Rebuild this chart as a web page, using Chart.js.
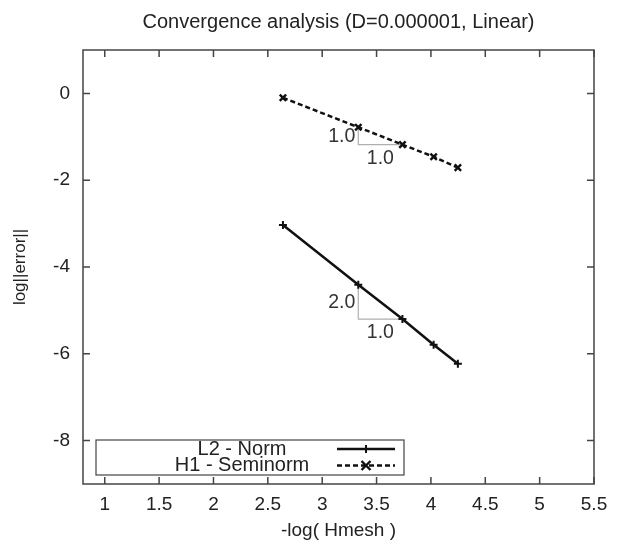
<!DOCTYPE html>
<html>
<head>
<meta charset="utf-8">
<script src="https://cdn.jsdelivr.net/npm/chart.js@4.4.1/dist/chart.umd.min.js"></script>
<style>
  html, body { margin: 0; padding: 0; background: #fff; }
</style>
</head>
<body>
<canvas id="convergence" width="617" height="542"></canvas>
<script>
// values
const meshLog = [2.639, 3.332, 3.738, 4.025, 4.248];
const l2Error = [-3.03, -4.41, -5.20, -5.79, -6.23];
const h1Error = [-0.10, -0.78, -1.18, -1.46, -1.71];
const xTicks = [1, 1.5, 2, 2.5, 3, 3.5, 4, 4.5, 5, 5.5];
const yTicks = [0, -2, -4, -6, -8];
// slope triangles: dataset, from point, to point, rise text, run text
const slopeMarks = [
  { dataset: 1, from: 1, to: 2, rise: '1.0', run: '1.0' },
  { dataset: 0, from: 1, to: 2, rise: '2.0', run: '1.0' }
];

const FONT = '"Liberation Sans", Arial, sans-serif';
const INK = '#111';
const FRAME = '#444';

function drawMarker(ctx, style, cx, cy, r) {
  ctx.beginPath();
  if (style === 'cross') {
    ctx.moveTo(cx - r, cy); ctx.lineTo(cx + r, cy);
    ctx.moveTo(cx, cy - r); ctx.lineTo(cx, cy + r);
  } else {
    ctx.moveTo(cx - r, cy - r); ctx.lineTo(cx + r, cy + r);
    ctx.moveTo(cx - r, cy + r); ctx.lineTo(cx + r, cy - r);
  }
  ctx.stroke();
}

const gnuplotLook = {
  id: 'gnuplotLook',
  beforeDatasetsDraw(chart) {
    const { ctx, scales: { x, y } } = chart;
    ctx.save();
    slopeMarks.forEach(m => {
      const d = chart.data.datasets[m.dataset].data;
      const x0 = x.getPixelForValue(d[m.from].x), y0 = y.getPixelForValue(d[m.from].y);
      const x1 = x.getPixelForValue(d[m.to].x), y1 = y.getPixelForValue(d[m.to].y);
      ctx.strokeStyle = '#b0b0b0';
      ctx.lineWidth = 1.2;
      ctx.setLineDash([]);
      ctx.beginPath();
      ctx.moveTo(x0, y0); ctx.lineTo(x0, y1); ctx.lineTo(x1, y1);
      ctx.stroke();
      ctx.fillStyle = '#333';
      ctx.font = '19.5px ' + FONT;
      ctx.textBaseline = 'middle';
      ctx.textAlign = 'right';
      ctx.fillText(m.rise, x0 - 3, (y0 + y1) / 2 + 1);
      ctx.textAlign = 'center';
      ctx.fillText(m.run, (x0 + x1) / 2, y1 + 14);
    });
    ctx.restore();
  },
  afterDraw(chart) {
    const { ctx, chartArea: a, scales: { x, y } } = chart;
    ctx.save();
    ctx.setLineDash([]);
    // frame with inward ticks on all sides
    ctx.strokeStyle = FRAME;
    ctx.lineWidth = 1.5;
    ctx.strokeRect(a.left, a.top, a.right - a.left, a.bottom - a.top);
    const tl = 7;
    ctx.beginPath();
    xTicks.forEach(v => {
      const px = x.getPixelForValue(v);
      ctx.moveTo(px, a.bottom); ctx.lineTo(px, a.bottom - tl);
      ctx.moveTo(px, a.top); ctx.lineTo(px, a.top + tl);
    });
    yTicks.forEach(v => {
      const py = y.getPixelForValue(v);
      ctx.moveTo(a.left, py); ctx.lineTo(a.left + tl, py);
      ctx.moveTo(a.right, py); ctx.lineTo(a.right - tl, py);
    });
    ctx.stroke();

    // legend box, lower left
    const box = { left: a.left + 13, top: a.bottom - 44, right: a.left + 321, bottom: a.bottom - 9 };
    ctx.fillStyle = '#fff';
    ctx.fillRect(box.left, box.top, box.right - box.left, box.bottom - box.top);
    ctx.strokeStyle = FRAME;
    ctx.lineWidth = 1.2;
    ctx.strokeRect(box.left, box.top, box.right - box.left, box.bottom - box.top);
    const textX = box.left + 146;
    const sampleX0 = box.left + 241, sampleX1 = box.left + 299;
    chart.data.datasets.forEach((ds, i) => {
      const rowY = box.top + 9 + i * 16.5;
      ctx.fillStyle = '#222';
      ctx.font = '20px ' + FONT;
      ctx.textAlign = 'center';
      ctx.textBaseline = 'middle';
      ctx.fillText(ds.label, textX, rowY);
      ctx.strokeStyle = ds.borderColor;
      ctx.lineWidth = ds.borderWidth;
      ctx.setLineDash(ds.borderDash || []);
      ctx.beginPath();
      ctx.moveTo(sampleX0, rowY); ctx.lineTo(sampleX1, rowY);
      ctx.stroke();
      ctx.setLineDash([]);
      ctx.lineWidth = ds.pointBorderWidth;
      drawMarker(ctx, ds.pointStyle, (sampleX0 + sampleX1) / 2, rowY, ds.pointRadius);
    });
    ctx.restore();
  }
};

new Chart(document.getElementById('convergence'), {
  type: 'line',
  data: {
    datasets: [
      {
        label: 'L2 - Norm',
        data: meshLog.map((v, i) => ({ x: v, y: l2Error[i] })),
        borderColor: INK,
        borderWidth: 2.5,
        pointStyle: 'cross',
        pointRadius: 4,
        pointBorderWidth: 2,
        pointBorderColor: INK,
        pointBackgroundColor: INK,
        tension: 0,
        fill: false
      },
      {
        label: 'H1 - Seminorm',
        data: meshLog.map((v, i) => ({ x: v, y: h1Error[i] })),
        borderColor: INK,
        borderWidth: 2.5,
        borderDash: [5, 3],
        pointStyle: 'crossRot',
        pointRadius: 4.5,
        pointBorderWidth: 2.4,
        pointBorderColor: INK,
        pointBackgroundColor: INK,
        tension: 0,
        fill: false
      }
    ]
  },
  options: {
    responsive: false,
    animation: false,
    devicePixelRatio: 1,
    layout: { padding: { left: 0, right: 23, top: 0, bottom: 0 } },
    plugins: {
      legend: { display: false },
      tooltip: { enabled: false },
      title: {
        display: true,
        fullSize: false,
        text: 'Convergence analysis (D=0.000001, Linear)',
        color: '#222',
        font: { family: FONT, size: 20, weight: 'normal' },
        padding: { top: 10, bottom: 16 }
      }
    },
    scales: {
      x: {
        type: 'linear',
        min: 0.8,
        max: 5.5,
        afterBuildTicks: s => { s.ticks = xTicks.map(v => ({ value: v })); },
        afterFit: s => { s.height = 58; },
        grid: { display: false, drawTicks: false },
        border: { display: false },
        ticks: {
          color: '#222',
          font: { family: FONT, size: 19 },
          padding: 9,
          maxRotation: 0,
          autoSkip: false,
          callback: v => String(v)
        },
        title: {
          display: true,
          text: '-log( Hmesh )',
          color: '#222',
          font: { family: FONT, size: 19 },
          padding: { top: 0, bottom: 0 }
        }
      },
      y: {
        type: 'linear',
        min: -9,
        max: 1,
        afterBuildTicks: s => { s.ticks = yTicks.map(v => ({ value: v })); },
        afterFit: s => { s.width = 83; },
        grid: { display: false, drawTicks: false },
        border: { display: false },
        ticks: {
          color: '#222',
          font: { family: FONT, size: 19 },
          padding: 13,
          callback: v => String(v)
        },
        title: {
          display: true,
          text: 'log||error||',
          color: '#222',
          font: { family: FONT, size: 17 },
          padding: { top: 10, bottom: 0 }
        }
      }
    }
  },
  plugins: [gnuplotLook]
});
</script>
</body>
</html>
